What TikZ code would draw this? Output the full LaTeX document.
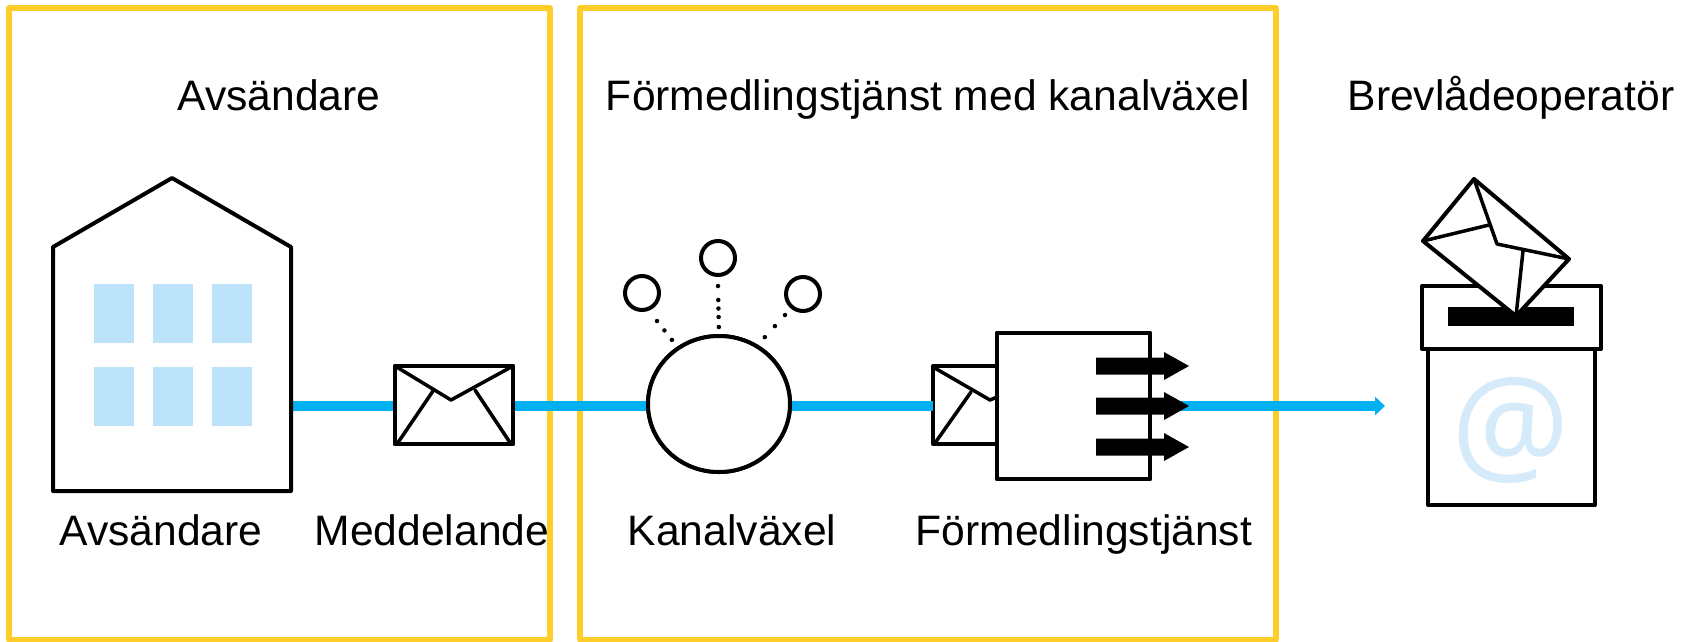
\documentclass[tikz,border=0pt]{standalone}
\usepackage{fontspec}
\setmainfont{Liberation Sans}
\newfontfamily\atfont{Open Sans}
\usetikzlibrary{arrows.meta, shapes.geometric}
\definecolor{frameyellow}{HTML}{FFCD2B}
\definecolor{linkblue}{HTML}{00B0F0}
\definecolor{windowblue}{HTML}{BDE3FA}
\definecolor{atblue}{HTML}{D5EBFA}
\tikzset{label text/.style={font=\fontsize{42.6}{50}\selectfont, anchor=base, inner sep=0}}
\tikzset{frame/.style={draw=frameyellow, line width=5.5, line join=round}}
\tikzset{outline/.style={draw=black, line width=4, line join=round, fill=white}}
\tikzset{thin outline/.style={draw=black, line width=3.5, line join=round, line cap=round}}
\tikzset{message/.style={outline, rectangle, inner sep=0, outer sep=0, minimum height=78}}
\tikzset{switchhub/.style={outline, ellipse, inner sep=0, outer sep=0, minimum width=142, minimum height=136}}
\tikzset{relaybox/.style={outline, rectangle, inner sep=0, outer sep=0, minimum width=153, minimum height=146}}
\tikzset{pane/.style={fill=windowblue, inner sep=0, minimum width=40, minimum height=59}}
\tikzset{link/.style={draw=linkblue, line width=10}}
\tikzset{satellite/.style={outline, circle, inner sep=0, minimum size=34}}
\tikzset{dotlink/.style={line width=4.5, line cap=round}}
\begin{document}
\begin{tikzpicture}[x=1pt, y=-1pt]
    \useasboundingbox (0, 0) rectangle (1691, 641);
    % zones
    \draw[frame] (9, 8) rectangle (550, 640);
    \draw[frame] (580, 8) rectangle (1276, 640);
    \coordinate (houseport) at (291, 406);
    \coordinate (boxtip) at (1385, 406);
    \node[message, minimum width=118] (msg) at (454, 405) {};
    \node[switchhub] (hub) at (719, 404) {};
    \node[message, minimum width=70] (relaymsg) at (968, 405) {};
    \node[relaybox] (relay) at (1073.5, 406) {};
    % links
    \draw[link] (houseport) -- (houseport -| msg.west);
    \draw[link] (houseport -| msg.east) -- (houseport -| hub.west);
    \draw[link] (houseport -| hub.east) -- (houseport -| relaymsg.west);
    \draw[link, -{Triangle[length=10, width=18]}] (relay.east) -- (boxtip);
    % redraw on top of the links
    \node[message, minimum width=118] at (msg) {};
    \node[switchhub] at (hub) {};
    % house
    \draw[outline] (53, 491) -- (53, 247) -- (172, 178) -- (291, 247) -- (291, 491) -- cycle;
    \foreach \px in {114, 173, 232} {
        \foreach \py in {313.5, 396.5} {
            \node[pane] at (\px, \py) {};
        }
    }
    % envelope
    \draw[thin outline] (395, 366) -- (451, 400) -- (513, 366);
    \draw[thin outline] (433, 391) -- (397, 444);
    \draw[thin outline] (475, 390) -- (511, 444);
    % channel switch
    \node[satellite] (sat1) at (642, 293) {};
    \node[satellite] (sat2) at (718, 258) {};
    \node[satellite] (sat3) at (803, 294) {};
    \draw[dotlink, dash pattern=on 0 off 12] (657, 321) -- (hub.126);
    \draw[dotlink, dash pattern=on 0 off 14 on 0 off 8.5 on 0 off 8.5 on 0 off 10 on 0 off 20] (718, 286) -- (hub.north);
    \draw[dotlink, dash pattern=on 0 off 15] (785, 315) -- (hub.57);
    % forwarding service
    \draw[thin outline] (933, 367) -- (990, 400) -- (997, 397);
    \draw[thin outline] (971, 392) -- (935, 443);
    \node[relaybox] at (relay) {};
    \foreach \py in {366, 406, 447} {
        \fill[shift={(0, \py)}] (1096, -8.5) -- (1164, -8.5) -- (1164, -14) -- (1189, 0) -- (1164, 14) -- (1164, 8.5) -- (1096, 8.5) -- cycle;
    }
    % mailbox
    \draw[outline] (1428, 349) rectangle (1595, 505);
    \node[text=atblue, font=\atfont\fontsize{132}{132}\selectfont, inner sep=0] (at) at (1511, 430) {@};
    \draw[outline] (1422, 286) rectangle (1601, 349);
    \fill (1448, 307) rectangle (1574, 326);
    \draw[outline] (1474, 179) -- (1423, 241) -- (1516, 316) -- (1569, 259) -- cycle;
    \draw[thin outline] (1474, 179) -- (1497, 244) -- (1569, 259);
    \draw[thin outline] (1423, 241) -- (1489, 225);
    \draw[thin outline] (1516, 316) -- (1523, 251);
    % labels
    \node[label text] (t1) at (279, 110) {Avsändare};
    \node[label text] (t2) at (928, 110) {Förmedlingstjänst med kanalväxel};
    \node[label text] (t3) at (1511, 110) {Brevlådeoperatör};
    \node[label text] (l1) at (161, 545) {Avsändare};
    \node[label text] (l2) at (432, 545) {Meddelande};
    \node[label text] (l3) at (732, 545) {Kanalväxel};
    \node[label text] (l4) at (1084, 545) {Förmedlingstjänst};
\end{tikzpicture}
\end{document}
